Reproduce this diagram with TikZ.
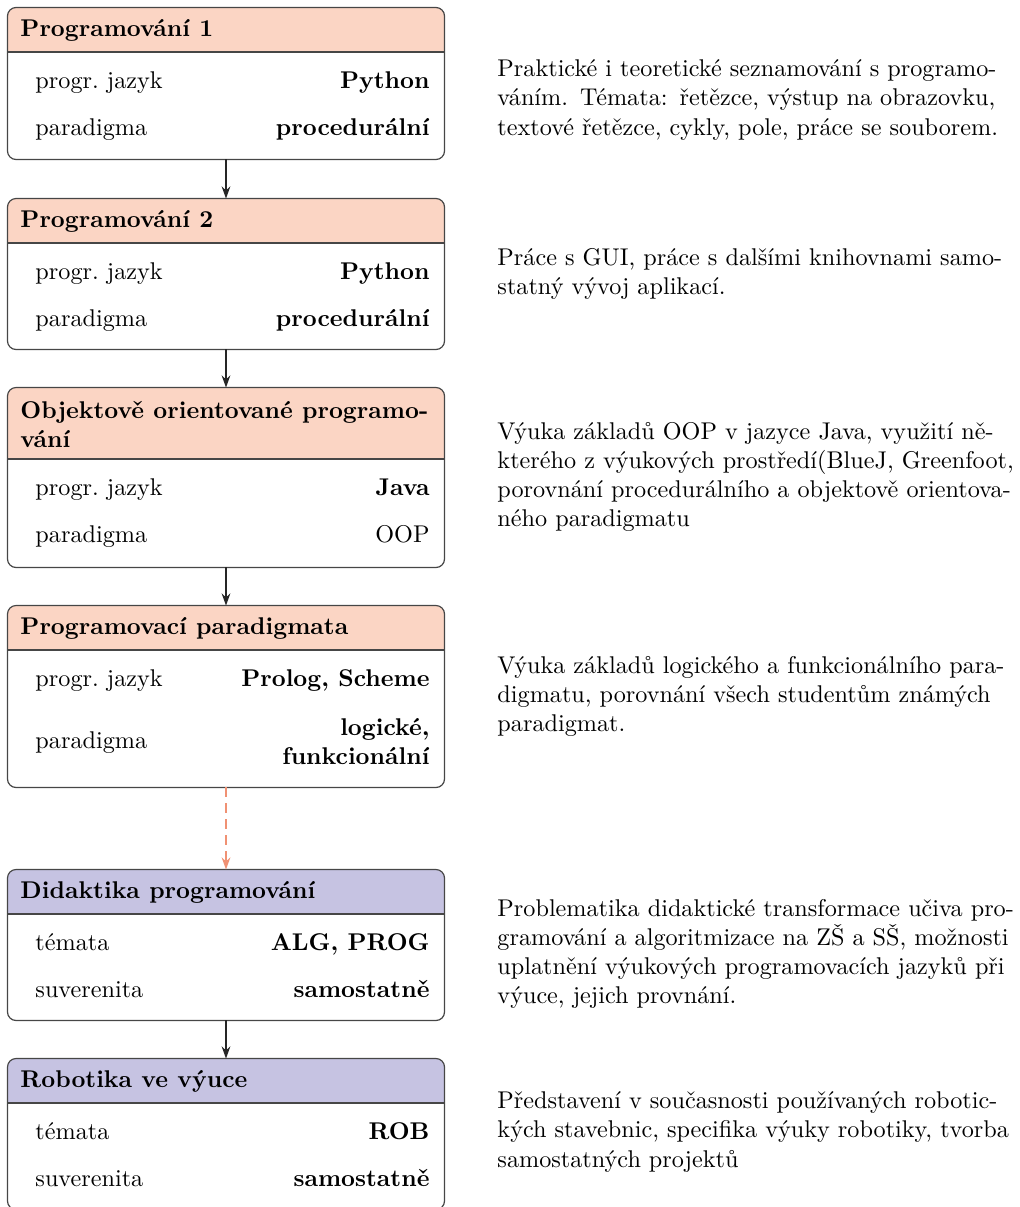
\documentclass[tikz,border=0pt]{standalone}
\usetikzlibrary{arrows.meta,fit}

\definecolor{hdrA}{RGB}{251,213,196}
\definecolor{hdrB}{RGB}{198,195,226}
\definecolor{edge}{RGB}{70,70,70}
\definecolor{soft}{RGB}{240,145,115}

\newlength\descw
\setlength\descw{213.2pt}
% one justified line of a description
\newcommand\jl[1]{\makebox[\descw][s]{#1}\\}

% a course box: name, top, header line, bottom, header colour
\newcommand\course[5]{%
  \node[fit={(8,#2) (444,#4)}, inner sep=0pt] (#1) {};
  \begin{scope}
    \clip[rounded corners=3.5pt] (#1.north west) rectangle (#1.south east);
    \fill[#5] (#1.north west) rectangle (444,#3);
  \end{scope}
  \draw[boxline] (#1.north west) rectangle (#1.south east);
  \draw[draw=edge, line width=0.5pt] (8,#3) -- (444,#3);
}

\tikzset{
  boxline/.style={draw=edge, line width=0.5pt, rounded corners=3.5pt},
  title/.style={anchor=west, font=\bfseries, inner sep=0pt, align=left},
  lab/.style={anchor=west, inner sep=0pt, text height=1.6ex, text depth=0.4ex},
  val/.style={anchor=east, inner sep=0pt, font=\bfseries, text height=1.6ex, text depth=0.4ex},
  val2/.style={anchor=east, inner sep=0pt, font=\bfseries, align=right},
  desc/.style={anchor=west, inner sep=0pt, text width=\descw, align=left},
  flow/.style={-{Stealth[length=5pt,width=3.6pt]}, line width=0.5pt, draw=black!85},
  softflow/.style={-{Stealth[length=5pt,width=3.6pt]}, line width=0.6pt, draw=soft, dash pattern=on 4pt off 2.6pt}
}

\begin{document}
\begin{tikzpicture}[x=0.4132pt, y=-0.4132pt]
\useasboundingbox (0,0) rectangle (1020,1207);

% Programování 1
\course{b1}{8}{52}{159}{hdrA}
\node[title] (t1) at (20,30) {Programování 1};
\node[lab] (l1a) at (35,82) {progr.\ jazyk};
\node[val] (v1a) at (430,82) {Python};
\node[lab] (l1b) at (35,129) {paradigma};
\node[val] (v1b) at (430,129) {procedurální};
\node[desc] (d1) at (497,100) {\jl{Praktické i teoretické seznamování s programo-}\jl{váním. Témata: řetězce, výstup na obrazovku,}textové řetězce, cykly, pole, práce se souborem.};

% Programování 2
\course{b2}{199}{243}{349}{hdrA}
\node[title] (t2) at (20,221) {Programování 2};
\node[lab] (l2a) at (35,273) {progr.\ jazyk};
\node[val] (v2a) at (430,273) {Python};
\node[lab] (l2b) at (35,320) {paradigma};
\node[val] (v2b) at (430,320) {procedurální};
\node[desc] (d2) at (497,274) {\jl{Práce s GUI, práce s dalšími knihovnami samo-}statný vývoj aplikací.};

% Objektově orientované programování
\course{b3}{388}{459}{567}{hdrA}
\node[title] (t3) at (20,424) {Objektově orientované programo-\\vání};
\node[lab] (l3a) at (35,489) {progr.\ jazyk};
\node[val] (v3a) at (430,489) {Java};
\node[lab] (l3b) at (35,536) {paradigma};
\node[anchor=east, inner sep=0pt, text height=1.6ex, text depth=0.4ex] (v3b) at (430,536) {OOP};
\node[desc] (d3) at (497,477) {\jl{Výuka základů OOP v jazyce Java, využití ně-}\jl{kterého z výukových prostředí(BlueJ, Greenfoot,}\jl{porovnání procedurálního a objektově orientova-}ného paradigmatu};

% Programovací paradigmata
\course{b4}{606}{650}{787}{hdrA}
\node[title] (t4) at (20,628) {Programovací paradigmata};
\node[lab] (l4a) at (35,680) {progr.\ jazyk};
\node[val] (v4a) at (430,680) {Prolog, Scheme};
\node[lab] (l4b) at (35,742) {paradigma};
\node[val2] (v4b) at (430,742) {logické,\\funkcionální};
\node[desc] (d4) at (497,696) {\jl{Výuka základů logického a funkcionálního para-}\jl{digmatu, porovnání všech studentům známých}paradigmat.};

% Didaktika programování
\course{b5}{870}{914}{1020}{hdrB}
\node[title] (t5) at (20,892) {Didaktika programování};
\node[lab] (l5a) at (35,944) {témata};
\node[val] (v5a) at (430,944) {ALG, PROG};
\node[lab] (l5b) at (35,991) {suverenita};
\node[val] (v5b) at (430,991) {samostatně};
\node[desc] (d5) at (497,954) {\jl{Problematika didaktické transformace učiva pro-}\jl{gramování a algoritmizace na ZŠ a SŠ, možnosti}\jl{uplatnění výukových programovacích jazyků při}výuce, jejich provnání.};

% Robotika ve výuce
\course{b6}{1059}{1103}{1209}{hdrB}
\node[title] (t6) at (20,1081) {Robotika ve výuce};
\node[lab] (l6a) at (35,1133) {témata};
\node[val] (v6a) at (430,1133) {ROB};
\node[lab] (l6b) at (35,1180) {suverenita};
\node[val] (v6b) at (430,1180) {samostatně};
\node[desc] (d6) at (497,1132) {\jl{Představení v současnosti používaných robotic-}\jl{kých stavebnic, specifika výuky robotiky, tvorba}samostatných projektů};

% sequence of courses
\draw[flow] (b1.south) -- (b2.north);
\draw[flow] (b2.south) -- (b3.north);
\draw[flow] (b3.south) -- (b4.north);
\draw[softflow] (b4.south) -- (b5.north);
\draw[flow] (b5.south) -- (b6.north);
\end{tikzpicture}
\end{document}
